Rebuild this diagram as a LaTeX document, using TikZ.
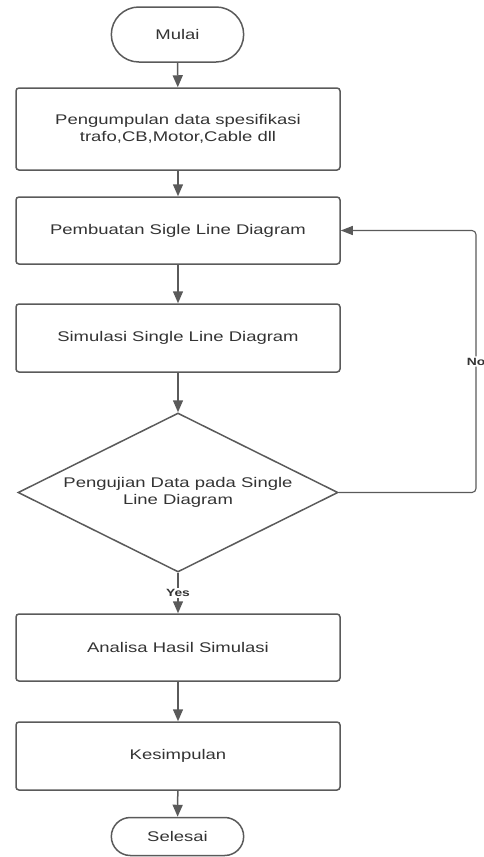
\documentclass[tikz,border=0pt]{standalone}
\usepackage{fontspec}
\setmainfont{Liberation Sans}[FakeStretch=1.32]
\usetikzlibrary{shapes.geometric,shapes.misc,arrows.meta}
\definecolor{garis}{HTML}{5A5A5A}
\definecolor{tulisan}{HTML}{333333}
\tikzset{
  kotak/.style={draw=garis,line width=1.5pt,rounded corners=3pt,minimum width=324pt,
    text=tulisan,align=center,font=\fontsize{14}{17.5}\selectfont},
  ujung/.style={draw=garis,line width=1.5pt,rounded rectangle,text=tulisan,
    font=\fontsize{14}{17}\selectfont},
  cabang/.style={draw=garis,line width=1.5pt,diamond,aspect=2,inner sep=0pt,
    minimum width=320pt,minimum height=159pt,text=tulisan,align=center,
    font=\fontsize{14}{17}\selectfont},
  panah/.style={draw=garis,line width=1.5pt,-{Triangle[width=10pt,length=12pt]}},
  panahtipis/.style={draw=garis,line width=1.1pt,rounded corners=4pt,
    -{Triangle[width=9pt,length=12pt]}},
  pilihan/.style={fill=white,inner sep=1.5pt,text=tulisan,
    font=\bfseries\fontsize{10.5}{12}\selectfont}
}
\begin{document}
\begin{tikzpicture}[x=1pt,y=-1pt]
\useasboundingbox (0,0) rectangle (484,857);
\node[ujung,minimum width=139pt,minimum height=55pt] (mulai) at (177.5,34.5) {Mulai};
\node[kotak,minimum height=82pt] (kumpul) at (178,129) {Pengumpulan data spesifikasi\\trafo,CB,Motor,Cable dll};
\node[kotak,minimum height=67pt] (buat) at (178,230.5) {Pembuatan Sigle Line Diagram};
\node[kotak,minimum height=68pt] (simulasi) at (178,338) {Simulasi Single Line Diagram};
\node[cabang] (uji) at (178,492.5) {Pengujian Data pada Single\\Line Diagram};
\node[kotak,minimum height=67pt] (analisa) at (178,647.5) {Analisa Hasil Simulasi};
\node[kotak,minimum height=68pt] (simpul) at (178,756) {Kesimpulan};
\node[ujung,minimum width=139pt,minimum height=38pt] (selesai) at (177.5,836.5) {Selesai};
\coordinate (pojok) at (476,230.5);

\foreach \a/\b in {mulai/kumpul, kumpul/buat, buat/simulasi, simulasi/uji, analisa/simpul, simpul/selesai}
{
    \draw[panah] (\a) -- (\b);
}
\draw[panah] (uji) -- node[pilihan] {Yes} (analisa);
\draw[panahtipis] (uji.east) -| node[pilihan,pos=0.75] {No} (pojok) -- (buat.east);
\end{tikzpicture}
\end{document}
